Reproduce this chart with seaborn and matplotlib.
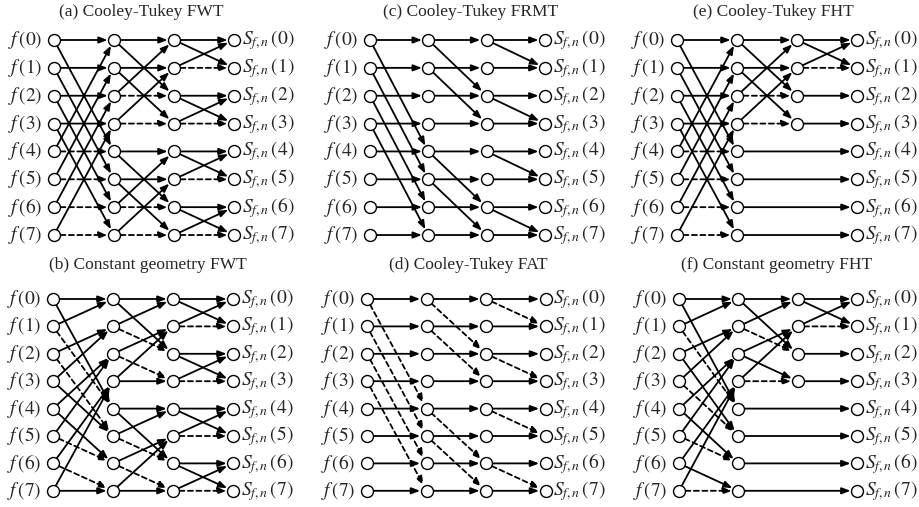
import numpy as np
import pandas as pd
import seaborn as sns
import matplotlib.pyplot as plt

# edges per stage: (from_row, to_row, dashed); stage k goes from column k to k+1
ct_fwt = [
    [(0, 0, 0), (0, 4, 0), (1, 1, 0), (1, 5, 0), (2, 2, 0), (2, 6, 0), (3, 3, 0), (3, 7, 0),
     (4, 0, 0), (4, 4, 1), (5, 1, 0), (5, 5, 1), (6, 2, 0), (6, 6, 1), (7, 3, 0), (7, 7, 1)],
    [(0, 0, 0), (0, 2, 0), (1, 1, 0), (1, 3, 0), (2, 0, 0), (2, 2, 1), (3, 1, 0), (3, 3, 1),
     (4, 4, 0), (4, 6, 0), (5, 5, 0), (5, 7, 0), (6, 4, 0), (6, 6, 1), (7, 5, 0), (7, 7, 1)],
    [(0, 0, 0), (0, 1, 0), (1, 0, 0), (1, 1, 1), (2, 2, 0), (2, 3, 0), (3, 2, 0), (3, 3, 1),
     (4, 4, 0), (4, 5, 0), (5, 4, 0), (5, 5, 1), (6, 6, 0), (6, 7, 0), (7, 6, 0), (7, 7, 1)],
]
cg_fwt = [
    [(0, 0, 0), (1, 0, 0), (0, 4, 0), (1, 4, 1), (2, 1, 0), (3, 1, 0), (2, 5, 1), (3, 5, 0),
     (4, 2, 0), (5, 2, 0), (4, 6, 0), (5, 6, 1), (6, 3, 0), (7, 3, 0), (6, 7, 1), (7, 7, 0)],
    [(0, 0, 0), (1, 0, 0), (0, 2, 0), (1, 2, 1), (2, 1, 0), (3, 1, 0), (2, 3, 1), (3, 3, 0),
     (4, 4, 0), (5, 4, 0), (4, 6, 0), (5, 6, 1), (6, 5, 0), (7, 5, 0), (6, 7, 1), (7, 7, 0)],
    [(0, 0, 0), (1, 0, 0), (0, 1, 0), (1, 1, 1), (2, 2, 0), (3, 2, 0), (2, 3, 0), (3, 3, 1),
     (4, 4, 0), (5, 4, 0), (4, 5, 0), (5, 5, 1), (6, 6, 0), (7, 6, 0), (6, 7, 0), (7, 7, 1)],
]
ct_frmt = [
    [(0, 0, 0), (0, 4, 0), (1, 1, 0), (1, 5, 0), (2, 2, 0), (2, 6, 0), (3, 3, 0), (3, 7, 0),
     (4, 4, 0), (5, 5, 0), (6, 6, 0), (7, 7, 0)],
    [(0, 0, 0), (0, 2, 0), (1, 1, 0), (1, 3, 0), (2, 2, 0), (3, 3, 0),
     (4, 4, 0), (4, 6, 0), (5, 5, 0), (5, 7, 0), (6, 6, 0), (7, 7, 0)],
    [(0, 0, 0), (0, 1, 0), (1, 1, 0), (2, 2, 0), (2, 3, 0), (3, 3, 0),
     (4, 4, 0), (4, 5, 0), (5, 5, 0), (6, 6, 0), (6, 7, 0), (7, 7, 0)],
]
ct_fat = [
    [(0, 0, 0), (0, 4, 1), (1, 1, 0), (1, 5, 1), (2, 2, 0), (2, 6, 1), (3, 3, 0), (3, 7, 1),
     (4, 4, 0), (5, 5, 0), (6, 6, 0), (7, 7, 0)],
    [(0, 0, 0), (0, 2, 1), (1, 1, 0), (1, 3, 1), (2, 2, 0), (3, 3, 0),
     (4, 4, 0), (4, 6, 1), (5, 5, 0), (5, 7, 1), (6, 6, 0), (7, 7, 0)],
    [(0, 0, 0), (0, 1, 1), (1, 1, 0), (2, 2, 0), (2, 3, 1), (3, 3, 0),
     (4, 4, 0), (4, 5, 1), (5, 5, 0), (6, 6, 0), (6, 7, 1), (7, 7, 0)],
]
ct_fht = [
    [(0, 0, 0), (0, 4, 0), (1, 1, 0), (1, 5, 0), (2, 2, 0), (2, 6, 0), (3, 3, 0), (3, 7, 0),
     (4, 0, 0), (4, 4, 1), (5, 1, 0), (5, 5, 1), (6, 2, 0), (6, 6, 1), (7, 3, 0), (7, 7, 1)],
    [(0, 0, 0), (0, 2, 0), (1, 1, 0), (1, 3, 0), (2, 0, 0), (2, 2, 1), (3, 1, 0), (3, 3, 1)],
    [(0, 0, 0), (0, 1, 0), (1, 0, 0), (1, 1, 1), (2, 2, 0), (3, 3, 0)],
]
cg_fht = [
    [(0, 0, 0), (1, 0, 0), (0, 4, 0), (1, 4, 1), (2, 1, 0), (3, 1, 0), (2, 5, 0), (3, 5, 1),
     (4, 2, 0), (5, 2, 0), (4, 6, 0), (5, 6, 1), (6, 3, 0), (7, 3, 0), (6, 7, 0), (7, 7, 1)],
    [(0, 0, 0), (1, 0, 0), (0, 2, 0), (1, 2, 1), (2, 1, 0), (3, 1, 0), (2, 3, 0), (3, 3, 1)],
    [(0, 0, 0), (1, 0, 0), (0, 1, 0), (1, 1, 1), (2, 2, 0), (3, 3, 0)],
]
# pass-through edges: (from_col, to_col, row)
fht_pass = [(1, 3, 4), (1, 3, 5), (1, 3, 6), (1, 3, 7)]

titles = ["(a) Cooley-Tukey FWT", "(b) Constant geometry FWT",
          "(c) Cooley-Tukey FRMT", "(d) Cooley-Tukey FAT",
          "(e) Cooley-Tukey FHT", "(f) Constant geometry FHT"]
graphs = [(ct_fwt, []), (cg_fwt, []), (ct_frmt, []), (ct_fat, []),
          (ct_fht, fht_pass), (cg_fht, fht_pass)]
rows = np.arange(8)

# layout in pixels: col0 x, col spacing, row0 y, row spacing, title x, title y
W, H = 919, 507
layout = [(54, 60.0, 40, 27.86, 141, 12), (53, 60.0, 299, 27.4, 148, 265),
          (370, 58.3, 40, 27.86, 471, 12), (367, 59.5, 299, 27.4, 468, 265),
          (677, 60.0, 40, 27.86, 773, 12), (679, 59.3, 299, 27.4, 777, 265)]

sns.set_theme(style="white")
plt.rcParams['font.family'] = ['Liberation Serif', 'DejaVu Serif']
plt.rcParams['mathtext.fontset'] = 'stix'

fig = plt.figure(figsize=(W / 100, H / 100), dpi=100)

for (stages, passes), title, (x0, dx, y0, dy, tx, ty) in zip(graphs, titles, layout):
    ax = fig.add_axes([x0 / W, 1 - (y0 + 7 * dy) / H, 3 * dx / W, 7 * dy / H])
    edges = []
    for k, stage in enumerate(stages):
        for r0, r1, d in stage:
            edges.append((k, r0, k + 1, r1, d))
    for c0, c1, r in passes:
        edges.append((c0, r, c1, r, 0))

    nodes = pd.DataFrame([(e[0], e[1]) for e in edges] + [(e[2], e[3]) for e in edges],
                         columns=['col', 'row']).drop_duplicates()

    for c0, r0, c1, r1, d in edges:
        ls = (0, (2.8, 1.9)) if d else '-'
        ax.annotate('', xy=(c1, r1), xytext=(c0, r0), annotation_clip=False,
                    arrowprops=dict(arrowstyle='-|>,head_length=0.5,head_width=0.19',
                                    mutation_scale=10, lw=1.3, color='black',
                                    linestyle=ls, shrinkA=4.6, shrinkB=4.6))

    sns.scatterplot(data=nodes, x='col', y='row', s=74, color='white',
                    edgecolor='black', linewidth=1.0, zorder=5, clip_on=False,
                    legend=False, ax=ax)

    for r in rows:
        ax.annotate(r'$f\,(%d)$' % r, xy=(0, r), xytext=(-8.5, 0),
                    textcoords='offset points', ha='right', va='center',
                    fontsize=14, annotation_clip=False)
        ax.annotate(r'$S_{f,n}\,(%d)$' % r, xy=(3, r), xytext=(5.5, 0),
                    textcoords='offset points', ha='left', va='center',
                    fontsize=14, annotation_clip=False)

    ax.set_xlim(0, 3)
    ax.set_ylim(7, 0)
    ax.axis('off')
    fig.text(tx / W, 1 - ty / H, title, ha='center', va='center', fontsize=12.5)

fig.savefig('out.png', dpi=100)
